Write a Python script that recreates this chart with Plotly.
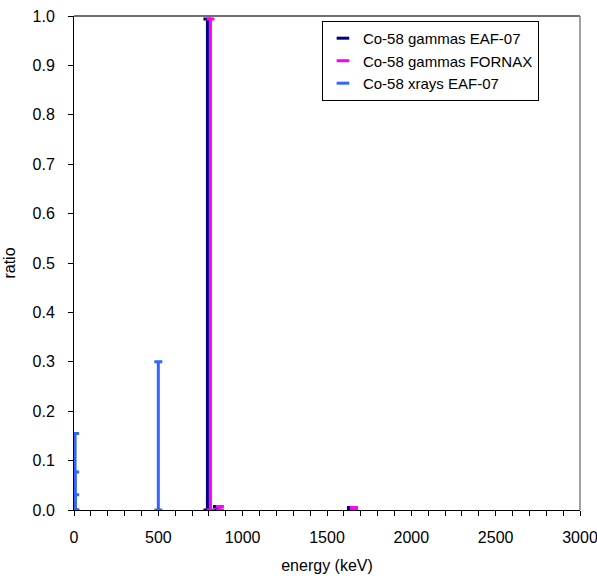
import plotly.graph_objects as go

# Data (energy in keV, ratio)
gam_eaf_energy = [791, 848, 1642]
gam_eaf_ratio = [0.994, 0.007, 0.005]
gam_fornax_energy = [809, 865, 1660]
gam_fornax_ratio = [0.994, 0.007, 0.005]
xray_eaf_energy = [6.4, 6.9, 7.1, 500]
xray_eaf_ratio = [0.155, 0.077, 0.031, 0.300]

series = [
    ("Co-58 gammas EAF-07", gam_eaf_energy, gam_eaf_ratio, "#000080"),
    ("Co-58 gammas FORNAX", gam_fornax_energy, gam_fornax_ratio, "#FF00FF"),
    ("Co-58 xrays EAF-07", xray_eaf_energy, xray_eaf_ratio, "#3366FF"),
]

fig = go.Figure()
for name, xs, ys, col in series:
    fig.add_trace(go.Scatter(
        x=xs, y=[0] * len(xs), mode="markers",
        marker=dict(size=0, color=col, opacity=0),
        error_y=dict(type="data", symmetric=False, array=ys,
                     arrayminus=[0] * len(ys), color=col,
                     thickness=3, width=4),
        showlegend=False, hoverinfo="skip", cliponaxis=False,
    ))
for name, xs, ys, col in series:
    fig.add_trace(go.Scatter(
        x=[None], y=[None], mode="markers", name=name,
        marker=dict(symbol="line-ew-open", size=9, color=col,
                    line=dict(color=col, width=3)),
    ))

font = "Liberation Sans, Arial, sans-serif"
fig.update_layout(
    width=597, height=581,
    margin=dict(l=74, r=17, t=16, b=71, autoexpand=False),
    paper_bgcolor="white", plot_bgcolor="white",
    font=dict(family=font, size=16, color="black"),
    showlegend=True,
    legend=dict(x=0.49, y=0.99, xanchor="left", yanchor="top",
                bordercolor="black", borderwidth=1, bgcolor="white",
                font=dict(size=15), itemwidth=30,
                tracegroupgap=0),
    xaxis=dict(range=[0, 3000], dtick=500, tick0=0, automargin=False,
               showgrid=False, zeroline=False,
               showline=True, linecolor="black", linewidth=1,
               mirror=False, ticks="outside", ticklen=5,
               tickcolor="black", ticklabelstandoff=8,
               ticklabeloverflow="allow",
               minor=dict(dtick=100, ticks="outside", ticklen=5,
                          tickcolor="black", showgrid=False),
               title=dict(text="energy (keV)", font=dict(size=16),
                          standoff=14)),
    yaxis=dict(range=[0, 1.0], dtick=0.1, tick0=0, tickformat=".1f",
               automargin=False,
               showgrid=False, zeroline=False,
               showline=True, linecolor="black", linewidth=1,
               ticks="outside", ticklen=5, tickcolor="black",
               ticklabelstandoff=10, ticklabeloverflow="allow",
               title=dict(text="ratio", font=dict(size=16), standoff=12)),
    shapes=[
        dict(type="line", xref="paper", yref="paper", x0=0, x1=1,
             y0=1, y1=1, line=dict(color="#404040", width=1.5)),
        dict(type="line", xref="paper", yref="paper", x0=1, x1=1,
             y0=0, y1=1, line=dict(color="#808080", width=1.5)),
    ],
)

fig.write_html("out.html")
